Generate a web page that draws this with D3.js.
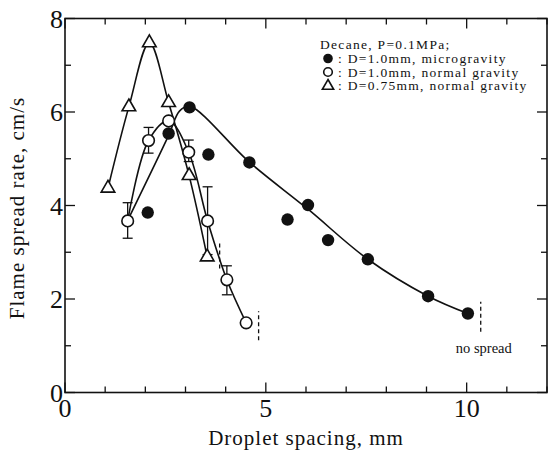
<!DOCTYPE html>
<html><head><meta charset="utf-8">
<script src="https://cdn.jsdelivr.net/npm/d3@7"></script>
<style>
html,body{margin:0;padding:0;background:#fff;}
svg{display:block;}
text{font-family:"Liberation Serif","Times New Roman",serif;fill:#111;}
</style></head>
<body>
<svg id="c" width="552" height="459"></svg>
<script>
// ---- data ----
const microX = [2.06, 2.58, 3.10, 3.57, 4.59, 5.54, 6.05, 6.55, 7.54, 9.04, 10.03];
const microY = [3.85, 5.54, 6.10, 5.09, 4.92, 3.70, 4.01, 3.26, 2.85, 2.06, 1.69];
const microFitX = [1.57, 2.58, 2.85, 3.10, 4.60, 6.05, 7.54, 9.04, 10.03];
const microFitY = [3.70, 5.50, 6.02, 6.12, 4.92, 3.92, 2.85, 2.06, 1.69];

const normX = [1.56, 2.08, 2.58, 3.08, 3.55, 4.03, 4.51];
const normY = [3.67, 5.39, 5.81, 5.14, 3.67, 2.41, 1.49];
const normErrLo = [3.30, 5.12, null, 4.94, 2.95, 2.09, null];
const normErrHi = [4.06, 5.67, null, 5.40, 4.40, 2.71, null];

const triX = [1.07, 1.59, 2.10, 2.58, 3.09, 3.54];
const triY = [4.37, 6.11, 7.48, 6.20, 4.64, 2.90];

// "no spread" limits (dashed verticals): x, yLow, yHigh
const limitX = [3.85, 4.82, 10.35];
const limitLo = [2.65, 1.12, 1.30];
const limitHi = [3.25, 1.74, 1.94];

const xTickLabels = [0, 5, 10];
const yTickLabels = [0, 2, 4, 6, 8];
const legendTitle = "Decane, P=0.1MPa;";
const legendLabels = [": D=1.0mm, microgravity", ": D=1.0mm, normal gravity", ": D=0.75mm, normal gravity"];
const xTitle = "Droplet spacing, mm";
const yTitle = "Flame spread rate, cm/s";

// ---- layout ----
const L = 65, R = 547, T = 18.5, B = 392.5;
const x = d3.scaleLinear().domain([0, 12]).range([L, R]);
const y = d3.scaleLinear().domain([0, 8]).range([B, T]);
const svg = d3.select("#c");
const ink = "#111";

// frame
svg.append("rect").attr("x", L).attr("y", T).attr("width", R - L).attr("height", B - T)
  .attr("fill", "none").attr("stroke", ink).attr("stroke-width", 1.6);

// ticks
const xt = d3.range(0, 13, 1), yt = d3.range(0, 9, 1);
const tk = svg.append("g").attr("stroke", ink).attr("stroke-width", 1.3);
xt.forEach(v => {
  const len = v % 5 === 0 ? 10 : 6;
  tk.append("line").attr("x1", x(v)).attr("x2", x(v)).attr("y1", B).attr("y2", B - len);
  tk.append("line").attr("x1", x(v)).attr("x2", x(v)).attr("y1", T).attr("y2", T + len);
});
yt.forEach(v => {
  const len = v % 2 === 0 ? 10 : 6;
  tk.append("line").attr("x1", L).attr("x2", L + len).attr("y1", y(v)).attr("y2", y(v));
  tk.append("line").attr("x1", R).attr("x2", R - len).attr("y1", y(v)).attr("y2", y(v));
});

// tick labels
svg.append("g").selectAll("text").data(xTickLabels).join("text")
  .attr("x", d => x(d)).attr("y", B + 24).attr("text-anchor", "middle")
  .attr("font-size", 26).text(d => d);
svg.append("g").selectAll("text").data(yTickLabels).join("text")
  .attr("x", L - 2).attr("y", d => y(d) + 9).attr("text-anchor", "end")
  .attr("font-size", 26).text(d => d);

// axis titles
svg.append("text").attr("x", 306).attr("y", 445).attr("text-anchor", "middle")
  .attr("font-size", 21).attr("letter-spacing", 1).text(xTitle);
svg.append("text").attr("transform", `translate(24,208) rotate(-90)`)
  .attr("text-anchor", "middle").attr("font-size", 21).attr("letter-spacing", 1).text(yTitle);

// curves
const line = d3.line().x(d => x(d[0])).y(d => y(d[1])).curve(d3.curveCatmullRom.alpha(0.5));
const cg = svg.append("g").attr("fill", "none").attr("stroke", ink).attr("stroke-width", 1.6);
cg.append("path").attr("d", line(microFitX.map((v, i) => [v, microFitY[i]])));
cg.append("path").attr("d", line(normX.map((v, i) => [v, normY[i]])));
cg.append("path").attr("d", line(triX.map((v, i) => [v, triY[i]])));

// no-spread dashed limits
svg.append("g").selectAll("line").data(limitX).join("line")
  .attr("x1", d => x(d)).attr("x2", d => x(d))
  .attr("y1", (d, i) => y(limitLo[i])).attr("y2", (d, i) => y(limitHi[i]))
  .attr("stroke", ink).attr("stroke-width", 1.3).attr("stroke-dasharray", "4,3");
svg.append("text").attr("x", x(9.73)).attr("y", y(0.84)).attr("font-size", 14.5).text("no spread");

// error bars
const eg = svg.append("g").attr("stroke", ink).attr("stroke-width", 1.3);
normX.forEach((v, i) => {
  if (normErrLo[i] == null) return;
  const cx = x(v);
  eg.append("line").attr("x1", cx).attr("x2", cx).attr("y1", y(normErrLo[i])).attr("y2", y(normErrHi[i]));
  eg.append("line").attr("x1", cx - 5).attr("x2", cx + 5).attr("y1", y(normErrLo[i])).attr("y2", y(normErrLo[i]));
  eg.append("line").attr("x1", cx - 5).attr("x2", cx + 5).attr("y1", y(normErrHi[i])).attr("y2", y(normErrHi[i]));
});

// markers
const tri = d3.symbol().type(d3.symbolTriangle).size(80);
svg.append("g").selectAll("path").data(triX).join("path")
  .attr("transform", (d, i) => `translate(${x(d)},${y(triY[i])})`)
  .attr("d", tri).attr("fill", "#fff").attr("stroke", ink).attr("stroke-width", 1.6);
svg.append("g").selectAll("circle").data(normX).join("circle")
  .attr("cx", d => x(d)).attr("cy", (d, i) => y(normY[i])).attr("r", 5.8)
  .attr("fill", "#fff").attr("stroke", ink).attr("stroke-width", 1.6);
svg.append("g").selectAll("circle").data(microX).join("circle")
  .attr("cx", d => x(d)).attr("cy", (d, i) => y(microY[i])).attr("r", 6.2)
  .attr("fill", ink);

// legend
const lg = svg.append("g");
lg.append("text").attr("x", 320).attr("y", 49).attr("font-size", 13.5).attr("letter-spacing", 1.3).text(legendTitle);
const ly = [63, 76.5, 90];
lg.append("circle").attr("cx", 328).attr("cy", ly[0] - 4.5).attr("r", 4.8).attr("fill", ink);
lg.append("circle").attr("cx", 328).attr("cy", ly[1] - 4.5).attr("r", 4.3).attr("fill", "#fff").attr("stroke", ink).attr("stroke-width", 1.6);
lg.append("path").attr("transform", `translate(328,${ly[2] - 4})`).attr("d", d3.symbol().type(d3.symbolTriangle).size(55))
  .attr("fill", "#fff").attr("stroke", ink).attr("stroke-width", 1.6);
lg.selectAll("text.l").data(legendLabels).join("text").attr("class", "l")
  .attr("x", 338).attr("y", (d, i) => ly[i]).attr("font-size", 13.5).attr("letter-spacing", 1.3).text(d => d);
</script>
</body></html>
